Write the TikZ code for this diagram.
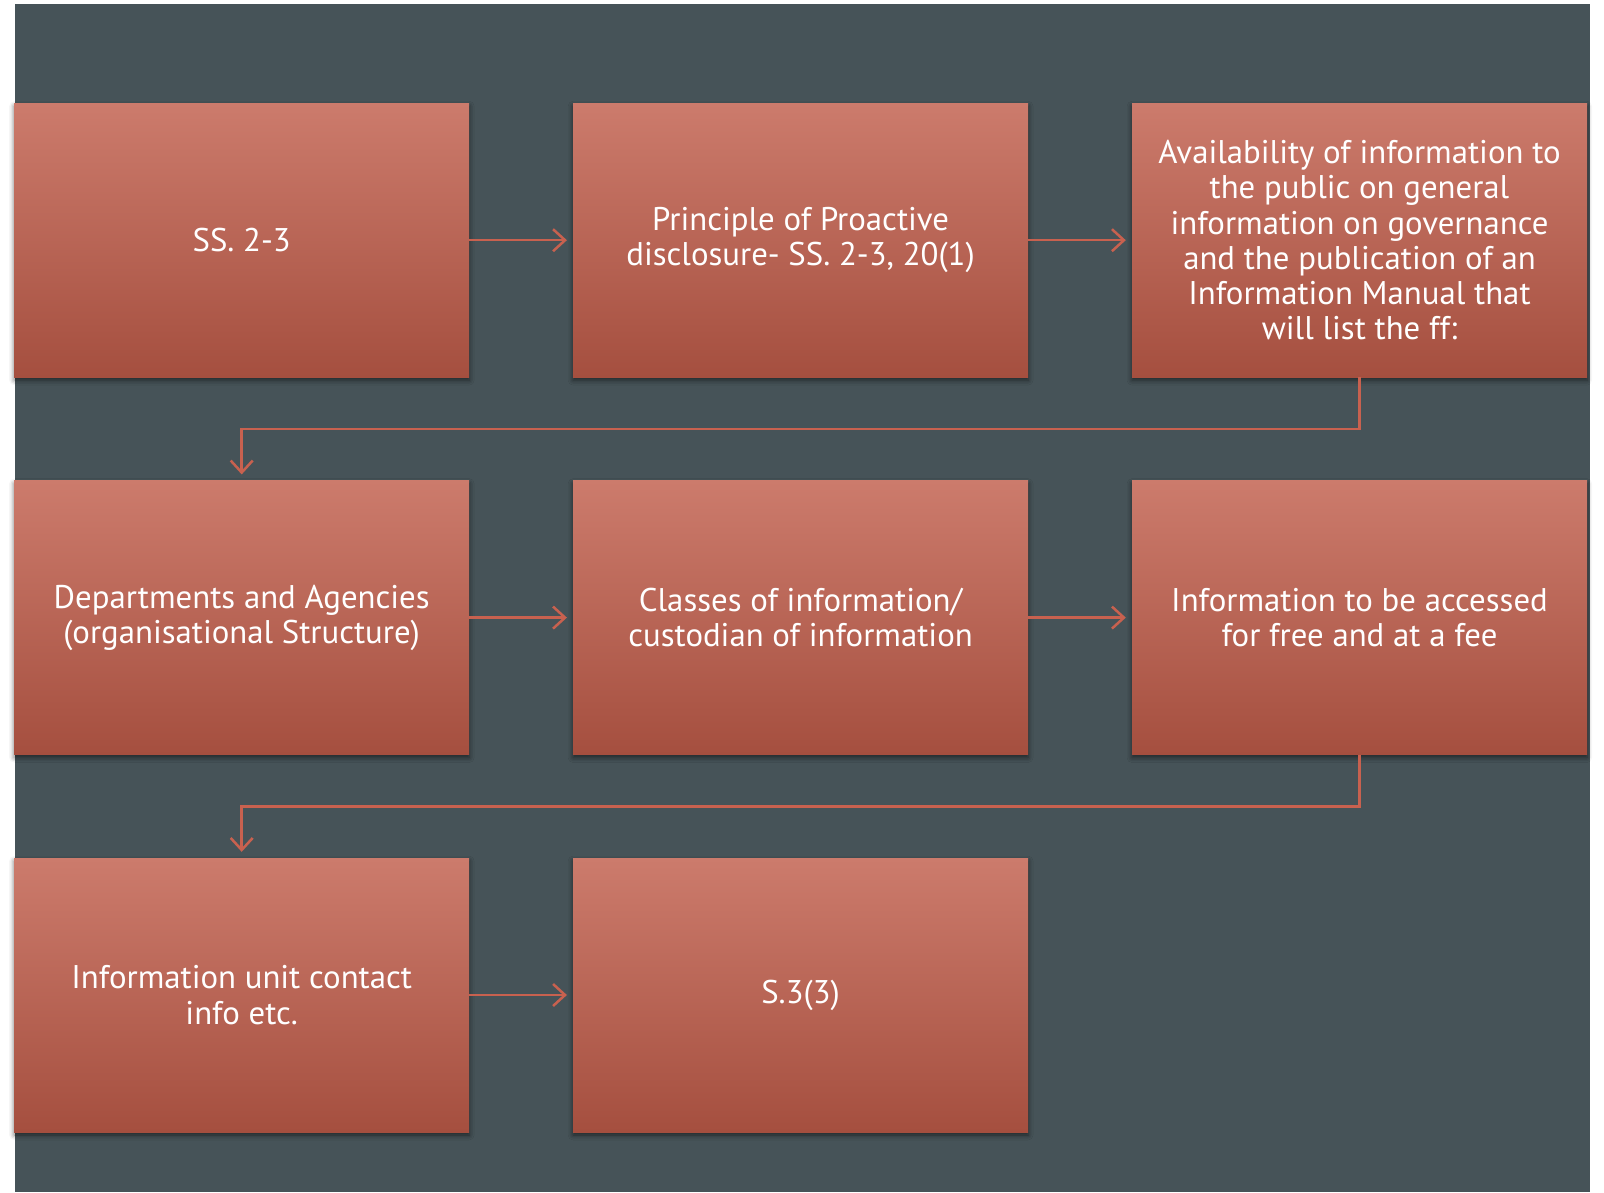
\documentclass[tikz,border=0pt]{standalone}
\usepackage{fontspec}
\setmainfont{PT Sans}
\usetikzlibrary{positioning,arrows.meta,shadows.blur}
\definecolor{slate}{HTML}{465358}
\definecolor{boxtop}{HTML}{CC7B6C}
\definecolor{boxbot}{HTML}{A54F3F}
\definecolor{arrowred}{HTML}{C8614F}

\begin{document}
\begin{tikzpicture}[x=1pt, y=1pt, node distance=103pt and 103.5pt,
                    main node/.style={rectangle, minimum width=455pt, minimum height=274pt, inner sep=0pt,
                      top color=boxtop, bottom color=boxbot, text=white, align=center,
                      font=\fontsize{32.8}{35.3}\selectfont,
                      blur shadow={shadow xshift=0pt, shadow yshift=-3pt, shadow blur radius=5pt, shadow opacity=55}},
                    link/.style={draw=arrowred, line width=2.5pt, shorten >=6pt,
                      -{Straight Barb[length=12pt, width=22pt, line width=2.5pt]}}]

  \useasboundingbox (0,0) rectangle (1604,-1192);
  \fill[slate] (15,-4) rectangle (1590,-1192);

  \node[main node, anchor=north west] (1) at (14,-103) {SS. 2-3};
  \node[main node] (2) [right=of 1] {Principle of Proactive\\disclosure- SS. 2-3, 20(1)};
  \node[main node] (3) [right=of 2] {Availability of information to\\the public on general\\information on governance\\and the publication of an\\Information Manual that\\will list the ff:};
  \node[main node] (4) [below=of 1] {Departments and Agencies\\(organisational Structure)};
  \node[main node] (5) [right=of 4] {Classes of information/\\custodian of information};
  \node[main node] (6) [right=of 5] {Information to be accessed\\for free and at a fee};
  \node[main node] (7) [below=of 4] {Information unit contact\\info etc.};
  \node[main node] (8) [right=of 7] {S.3(3)};

  % row to row
  \coordinate (b1) at ([yshift=-51.5pt]3.south);
  \coordinate (b2) at ([yshift=-51.5pt]6.south);

  \path[link]
    (1) edge (2)
    (2) edge (3)
    (4) edge (5)
    (5) edge (6)
    (7) edge (8);
  \draw[link] (3.south) -- (b1) -| (4.north);
  \draw[link] (6.south) -- (b2) -| (7.north);
\end{tikzpicture}
\end{document}
